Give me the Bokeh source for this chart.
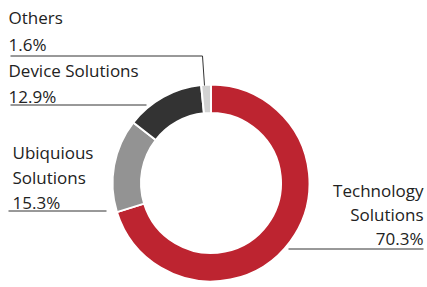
import math
from bokeh.plotting import figure
from bokeh.models import Range1d, ColumnDataSource
from bokeh.core.properties import value
from bokeh.embed import file_html
from bokeh.resources import INLINE

categories = ["Technology Solutions", "Ubiquious Solutions", "Device Solutions", "Others"]
shares = [70.3, 15.3, 12.9, 1.6]
colors = ["#BD2430", "#939393", "#333333", "#D2D2D2"]

H = 287  # image height; data y = H - image y
W = 427

p = figure(width=W, height=H, output_backend="svg", toolbar_location=None,
           x_range=Range1d(0, W), y_range=Range1d(0, H), min_border=0)
p.axis.visible = False
p.grid.visible = False
p.outline_line_color = None
p.background_fill_color = "white"
p.border_fill_color = "white"

cx, cy = 210.5, H - 182.5
r_out, r_in = 98.5, 70

total = sum(shares)
starts, ends = [], []
acc = 0.0
for s in shares:
    a0 = math.pi / 2 - 2 * math.pi * acc / total
    acc += s
    a1 = math.pi / 2 - 2 * math.pi * acc / total
    starts.append(a0)
    ends.append(a1)

src = ColumnDataSource(dict(start=starts, end=ends, color=colors, cat=categories))
p.annular_wedge(x=cx, y=cy, inner_radius=r_in, outer_radius=r_out,
                start_angle="start", end_angle="end", direction="clock",
                fill_color="color", line_color="white", line_width=2, source=src)

lc = "#333333"
def L(xs, ys):
    p.line(xs, [H - y for y in ys], line_color=lc, line_width=1)

L([288, 423], [248.5, 248.5])          # Technology
L([8, 106], [210.5, 210.5])            # Ubiquious
L([10, 146], [104.5, 104.5])           # Device
L([10, 202, 204], [55.5, 55.5, 85])    # Others

font = value("Open Sans")
fs = "17px"
tc = "#222222"

def T(x, y, txt, align="left"):
    p.text(x=[x], y=[H - y], text=[txt], text_font=font, text_font_size=fs,
           text_color=tc, text_align=align, text_baseline="middle")

T(8, 17, "Others")
T(8, 44, f"{shares[3]}%")
T(8, 70, "Device Solutions")
T(8, 96, f"{shares[2]}%")
T(12, 152, "Ubiquious")
T(12, 177, "Solutions")
T(12, 202, f"{shares[1]}%")
T(423, 190, "Technology", "right")
T(423, 214, "Solutions", "right")
T(423, 238, f"{shares[0]}%", "right")

open("out.html", "w").write(file_html(p, INLINE))
